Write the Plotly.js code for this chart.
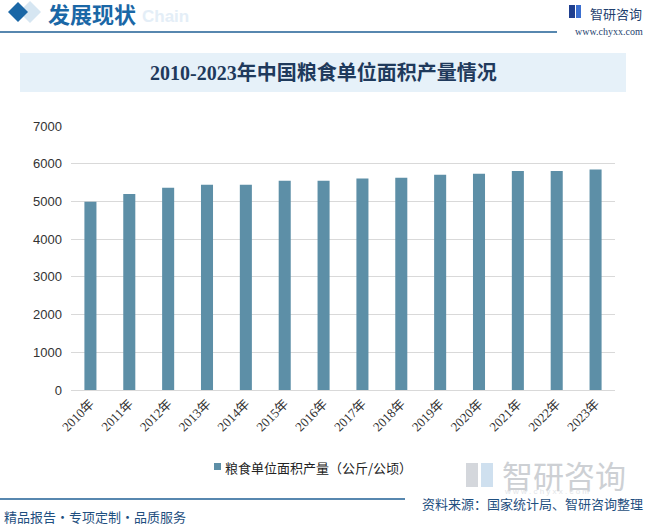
<!DOCTYPE html>
<html><head><meta charset="utf-8">
<script src="https://cdn.plot.ly/plotly-3.0.1.min.js"></script>
<style>html,body{margin:0;padding:0;background:#fff;}#chart{width:647px;height:524px;}</style>
</head><body><div id="chart"></div>
<script>
const years = ['2010年','2011年','2012年','2013年','2014年','2015年','2016年','2017年','2018年','2019年','2020年','2021年','2022年','2023年'];
const yieldPerHa = [4990, 5200, 5360, 5440, 5440, 5550, 5545, 5605, 5630, 5710, 5735, 5810, 5810, 5845];
const seriesName = '粮食单位面积产量（公斤/公顷）';
const chartTitle = '2010-2023年中国粮食单位面积产量情况';
const yTicks = [0,1000,2000,3000,4000,5000,6000,7000];
const barColor = '#5d8fa7';

const W = 647, H = 524;
const px = x => x / W;
const py = y => 1 - y / H;
function diamond(cx, cy, r) {
  return 'M' + px(cx - r) + ',' + py(cy) + ' L' + px(cx) + ',' + py(cy - r) +
         ' L' + px(cx + r) + ',' + py(cy) + ' L' + px(cx) + ',' + py(cy + r) + ' Z';
}
function prect(x0, y0, x1, y1, color, layer) {
  return {type: 'rect', xref: 'paper', yref: 'paper', x0: px(x0), x1: px(x1), y0: py(y1), y1: py(y0),
          fillcolor: color, line: {width: 0}, layer: layer || 'above'};
}
function note(x, y, text, size, color, anchor, family) {
  return {xref: 'paper', yref: 'paper', x: px(x), y: py(y), xanchor: anchor || 'left', yanchor: 'middle',
          showarrow: false, text: text,
          font: {family: family || 'Noto Sans CJK SC, sans-serif', size: size, color: color}};
}

const trace = {
  type: 'bar', x: years, y: yieldPerHa, name: seriesName,
  marker: {color: barColor}, hoverinfo: 'x+y'
};

const layout = {
  width: W, height: H,
  margin: {l: 0, r: 0, t: 0, b: 0},
  paper_bgcolor: '#ffffff', plot_bgcolor: '#ffffff',
  bargap: 0.69,
  showlegend: false,
  xaxis: {
    domain: [px(71), px(615)], anchor: 'y',
    type: 'category', tickangle: -45,
    tickfont: {family: 'Liberation Serif, Noto Sans CJK SC, serif', size: 13, color: '#333'},
    showline: true, linecolor: '#d9d9d9', linewidth: 1, ticks: '', showgrid: false
  },
  yaxis: {
    domain: [py(390), py(126)], anchor: 'x',
    range: [0, 7000], tickvals: yTicks, ticktext: yTicks.map(String),
    tickfont: {family: 'Liberation Sans, Arial, sans-serif', size: 13, color: '#333'},
    gridcolor: '#d9d9d9', gridwidth: 1, zeroline: false, showline: false, ticks: '',
    ticklabelstandoff: 8
  },
  shapes: [
    {type: 'path', xref: 'paper', yref: 'paper', path: diamond(30, 12, 11), fillcolor: '#d6e6f2', line: {width: 0}, layer: 'below'},
    {type: 'path', xref: 'paper', yref: 'paper', path: diamond(18, 12, 10), fillcolor: '#1a67a6', line: {width: 0}},
    {type: 'line', xref: 'paper', yref: 'paper', x0: 0, x1: px(557), y0: py(32), y1: py(32), line: {color: '#1f5f95', width: 1.5}},
    prect(20, 53, 626, 92, '#e6f1f9', 'below'),
    {type: 'line', xref: 'paper', yref: 'paper', x0: 0, x1: px(405), y0: py(499), y1: py(499), line: {color: '#1f5f95', width: 1.5}},
    // header logo icon
    prect(569, 5, 575, 18, '#1f3f8f'),
    prect(576, 5, 581, 18, '#3b6fd0'),
    // watermark logo icon
    prect(466, 463, 478, 487, '#d4d7dc', 'below'),
    prect(481, 463, 493, 487, '#cfe0ef', 'below'),
    // legend swatch
    prect(214, 463, 221, 470, barColor)
  ],
  annotations: [
    note(140, 16, '<b>Chain</b>', 17, '#e4eef7', 'left', 'Liberation Sans, sans-serif'),
    note(46, 13, '<b>发展现状</b>', 22, '#1a67a6'),
    note(644, 13, '智研咨询', 13, '#1f3f6f', 'right'),
    note(645, 32, 'www.chyxx.com', 10, '#1f3f6f', 'right', 'Liberation Serif, serif'),
    note(323, 73, '<b>' + chartTitle + '</b>', 20, '#1f3a5c', 'center', 'Liberation Serif, Noto Sans CJK SC, serif'),
    note(223, 467, seriesName, 13, '#222'),
    note(500, 474, '智研咨询', 31, '#cdd0d4'),
    note(546, 491, 'w w w . c h y x x . c o m', 8, '#e2e4e7', 'center', 'Liberation Sans, sans-serif'),
    note(645, 503, '资料来源：国家统计局、智研咨询整理', 13, '#1f4f80', 'right'),
    note(2, 516, '精品报告・专项定制・品质服务', 13, '#1f4f80')
  ]
};

Plotly.newPlot('chart', [trace], layout, {displayModeBar: false, staticPlot: true});
</script></body></html>
